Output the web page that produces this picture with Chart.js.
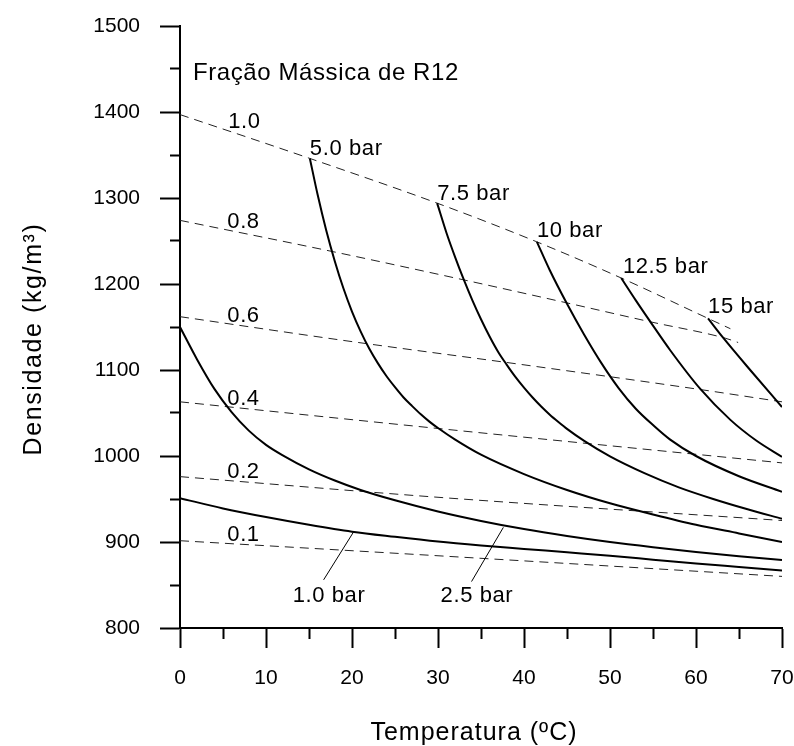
<!DOCTYPE html>
<html>
<head>
<meta charset="utf-8">
<script src="https://cdn.jsdelivr.net/npm/chart.js@4.4.0/dist/chart.umd.min.js"></script>
<style>
  html, body { margin: 0; padding: 0; background: #fff; }
</style>
</head>
<body>
<canvas id="grafico" width="794" height="746"></canvas>
<script>
// curvas de pressao (temperatura ºC, densidade kg/m3)
var t_1bar   = [0, 5, 10, 15, 20, 25, 30, 35, 40, 45, 50, 55, 60, 65, 70];
var rho_1bar = [951, 939, 929, 920, 912, 906, 900.5, 896, 892, 888, 884, 879.5, 875, 871, 867];

var t_2bar   = [0, 2, 4, 6, 8, 10, 12, 15, 18, 21, 25, 30, 35, 40, 45, 50, 55, 60, 65, 70];
var rho_2bar = [1150, 1112, 1078, 1051, 1029.5, 1013, 1000.5, 984.5, 971.5, 960.5, 948.5, 935.5, 924.5, 915, 907, 900, 894, 888.5, 883.5, 879];

var t_5bar   = [15.1, 16, 17, 18, 19, 20, 21, 22, 23, 24, 25, 26, 27, 28, 29, 30, 32, 35, 40, 45, 50, 55, 60, 65, 70];
var rho_5bar = [1346, 1304, 1262.5, 1226.5, 1195, 1168, 1145, 1125, 1108, 1093, 1080, 1068, 1058, 1048.5, 1040, 1032.5, 1019, 1001.5, 979, 960.5, 945, 932, 920, 910, 900];

var t_7bar   = [29.9, 31, 32, 33, 34, 35, 36, 37, 38, 39, 40, 41, 42, 43, 44, 45, 47, 50, 54, 58, 62, 66, 70];
var rho_7bar = [1294, 1259, 1231, 1205, 1181, 1159, 1139, 1121, 1106, 1092, 1079.5, 1068, 1057.5, 1048, 1039.5, 1031.5, 1017.5, 999.5, 980, 963.5, 950, 938, 927];

var t_10bar   = [41.5, 43, 45, 47, 49, 51, 53, 55, 57, 60, 65, 70];
var rho_10bar = [1249, 1216, 1177, 1141, 1108, 1079, 1055, 1036, 1019, 1000, 976.5, 958.5];

var t_12bar   = [51.3, 53, 54.7, 57, 60.5, 64, 67, 70];
var rho_12bar = [1207, 1181, 1156, 1123, 1078, 1042, 1018, 999];

var t_15bar   = [61.4, 63.2, 66.3, 70];
var rho_15bar = [1160, 1137, 1100, 1057];

// linhas de fracao massica
var t_f10   = [0, 15.1, 29.9, 41.5, 51.3, 61.4, 64];
var rho_f10 = [1397, 1346, 1294, 1249, 1207, 1160, 1148];
var t_f08   = [0, 17.6, 32.9, 45, 54.7, 63.4, 64.9];
var rho_f08 = [1274, 1238, 1205, 1178, 1156, 1137, 1132];
var t_f06   = [0, 20, 40, 60, 70];
var rho_f06 = [1162, 1133, 1106, 1078, 1063];
var t_f04   = [0, 30, 70];
var rho_f04 = [1063, 1032, 992];
var t_f02   = [0, 30, 70];
var rho_f02 = [976, 952, 925];
var t_f01   = [0, 30, 70];
var rho_f01 = [901.5, 884, 860];

var xTicks = [0, 10, 20, 30, 40, 50, 60, 70];
var yTicks = [800, 900, 1000, 1100, 1200, 1300, 1400, 1500];

function pts(xs, ys) {
  var out = [];
  for (var i = 0; i < xs.length; i++) out.push({x: xs[i], y: ys[i]});
  return out;
}
function solida(nome, xs, ys) {
  return {label: nome, data: pts(xs, ys), showLine: true, borderColor: '#000', borderWidth: 2,
    pointRadius: 0, cubicInterpolationMode: 'monotone', fill: false};
}
function tracejada(nome, xs, ys) {
  return {label: nome, data: pts(xs, ys), showLine: true, borderColor: '#222', borderWidth: 1,
    borderDash: [9, 6], pointRadius: 0, cubicInterpolationMode: 'monotone', fill: false};
}

var fonte = 'Arial, "Liberation Sans", sans-serif';

// textos dentro do grafico (posicao em unidades dos eixos)
var notas = [
  {t: 'Fração Mássica de R12', x: 1.5, y: 1437, s: 24},
  {t: '1.0', x: 5.6, y: 1381}, {t: '0.8', x: 5.5, y: 1265}, {t: '0.6', x: 5.5, y: 1156},
  {t: '0.4', x: 5.5, y: 1059}, {t: '0.2', x: 5.5, y: 974}, {t: '0.1', x: 5.5, y: 901},
  {t: '5.0 bar', x: 15.1, y: 1350}, {t: '7.5 bar', x: 29.9, y: 1298}, {t: '10 bar', x: 41.5, y: 1255},
  {t: '12.5 bar', x: 51.5, y: 1213}, {t: '15 bar', x: 61.4, y: 1166},
  {t: '1.0 bar', x: 13.1, y: 830}, {t: '2.5 bar', x: 30.3, y: 830}
];
var setas = [
  [20.2, 912, 16.7, 856],
  [37.6, 917, 33.9, 854]
];

var textos = {
  id: 'textos',
  afterDatasetsDraw: function(chart) {
    var c = chart.ctx, xs = chart.scales.x, ys = chart.scales.y, a = chart.chartArea;
    c.save();
    c.fillStyle = '#000';
    c.textBaseline = 'alphabetic';
    c.textAlign = 'left';
    c.letterSpacing = '0.6px';
    notas.forEach(function(n) {
      c.font = (n.s || 22) + 'px ' + fonte;
      c.fillText(n.t, xs.getPixelForValue(n.x), ys.getPixelForValue(n.y));
    });
    c.strokeStyle = '#000';
    c.lineWidth = 1;
    setas.forEach(function(s) {
      c.beginPath();
      c.moveTo(xs.getPixelForValue(s[0]), ys.getPixelForValue(s[1]));
      c.lineTo(xs.getPixelForValue(s[2]), ys.getPixelForValue(s[3]));
      c.stroke();
    });
    // titulos dos eixos
    c.font = '25px ' + fonte;
    c.letterSpacing = '1px';
    c.textAlign = 'center';
    c.fillText('Temperatura (ºC)', (a.left + a.right) / 2 - 7, chart.height - 6);
    c.translate(34, (a.top + a.bottom) / 2 + 12);
    c.rotate(-Math.PI / 2);
    c.textBaseline = 'middle';
    c.letterSpacing = '1.6px';
    c.fillText('Densidade (kg/m³)', 0, 0);
    c.restore();
  }
};

var ctx = document.getElementById('grafico');
var grafico = new Chart(ctx, {
  type: 'scatter',
  data: {
    datasets: [
      solida('1.0 bar', t_1bar, rho_1bar),
      solida('2.5 bar', t_2bar, rho_2bar),
      solida('5.0 bar', t_5bar, rho_5bar),
      solida('7.5 bar', t_7bar, rho_7bar),
      solida('10 bar', t_10bar, rho_10bar),
      solida('12.5 bar', t_12bar, rho_12bar),
      solida('15 bar', t_15bar, rho_15bar),
      tracejada('1.0', t_f10, rho_f10),
      tracejada('0.8', t_f08, rho_f08),
      tracejada('0.6', t_f06, rho_f06),
      tracejada('0.4', t_f04, rho_f04),
      tracejada('0.2', t_f02, rho_f02),
      tracejada('0.1', t_f01, rho_f01)
    ]
  },
  options: {
    responsive: false,
    animation: false,
    layout: {padding: {top: 26, right: 12, left: 0, bottom: 0}},
    plugins: {legend: {display: false}, tooltip: {enabled: false}},
    scales: {
      x: {
        type: 'linear', min: 0, max: 70,
        afterFit: function(s) { s.height = 118; s.paddingLeft = 0; s.paddingRight = 0; },
        border: {display: true, color: '#000', width: 2},
        grid: {
          drawOnChartArea: false, drawTicks: true, tickLength: 20, tickWidth: 2, tickColor: '#000',
          tickBorderDash: function(c) { return xTicks.indexOf(c.tick.value) >= 0 ? [] : [10, 10]; }
        },
        ticks: {
          stepSize: 5, padding: 18, color: '#000', font: {family: fonte, size: 21},
          maxRotation: 0, autoSkip: false,
          callback: function(v) { return xTicks.indexOf(v) >= 0 ? String(v) : ''; }
        }
      },
      y: {
        type: 'linear', min: 800, max: 1500,
        afterFit: function(s) { s.width = 180; s.paddingTop = 0; s.paddingBottom = 0; },
        border: {display: true, color: '#000', width: 2},
        grid: {
          drawOnChartArea: false, drawTicks: true, tickLength: 20, tickWidth: 2, tickColor: '#000',
          tickBorderDash: function(c) { return yTicks.indexOf(c.tick.value) >= 0 ? [] : [0, 10, 10, 0]; }
        },
        ticks: {
          stepSize: 50, padding: 20, color: '#000', font: {family: fonte, size: 21},
          autoSkip: false,
          callback: function(v) { return yTicks.indexOf(v) >= 0 ? String(v) : ''; }
        }
      }
    }
  },
  plugins: [textos]
});
</script>
</body>
</html>
